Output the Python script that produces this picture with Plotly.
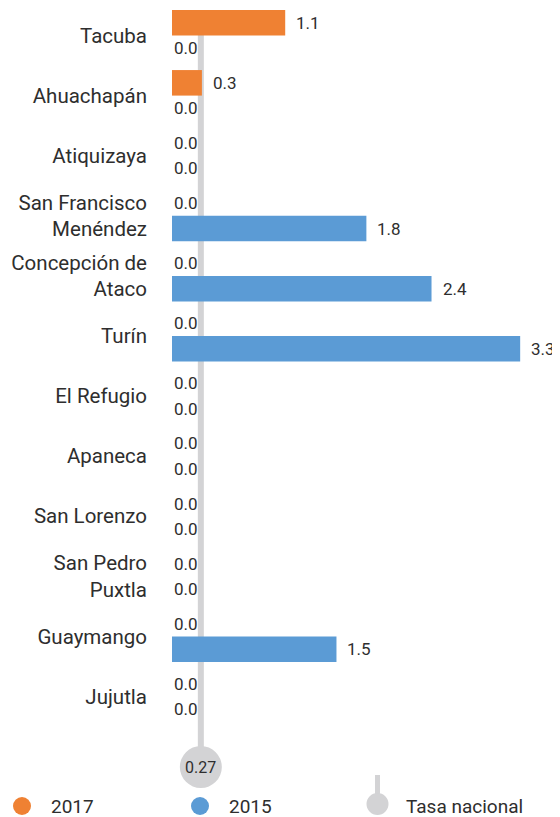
import plotly.graph_objects as go

# datos (valores estimados; las etiquetas muestran un decimal)
categorias = ["Tacuba", "Ahuachapán", "Atiquizaya", "San Francisco<br>Menéndez",
              "Concepción de<br>Ataco", "Turín", "El Refugio", "Apaneca",
              "San Lorenzo", "San Pedro<br>Puxtla", "Guaymango", "Jujutla"]
valores_2017 = [1.06, 0.28, 0.0, 0.0, 0.0, 0.0, 0.0, 0.0, 0.0, 0.0, 0.0, 0.0]
valores_2015 = [0.0, 0.0, 0.0, 1.82, 2.43, 3.26, 0.0, 0.0, 0.0, 0.0, 1.54, 0.0]
tasa_nacional = 0.27

NARANJA = "#EF8133"
AZUL = "#5B9BD5"
GRIS = "#D3D3D5"
TEXTO = "#2E2E2E"
FUENTE = "Roboto"

# la página deja 8px de margen en el body
OFF = 8
W, H = 560 - OFF, 817 - OFF
ML, MR, MT, MB = 172 - OFF, 0, 0, 90
PW, PH = W - ML - MR, H - MT - MB
FILA0, PASO = 35.5 - OFF, 60.1  # centro de la primera fila y separación (px)
ESCALA = 106.8  # px por unidad


def px_x(px):
    return (px - OFF - ML) / PW


def px_y(py):
    return 1 - (py - OFF - MT) / PH


fig = go.Figure()
fig.add_trace(go.Bar(y=categorias, x=valores_2017, orientation="h", name="2017",
                     marker=dict(color=NARANJA, line=dict(width=0))))
fig.add_trace(go.Bar(y=categorias, x=valores_2015, orientation="h", name="2015",
                     marker=dict(color=AZUL, line=dict(width=0))))

# etiquetas de valor
anots = []
for serie, desp in [(valores_2017, 12.75), (valores_2015, -12.75)]:
    for cat, v in zip(categorias, serie):
        anots.append(dict(x=v, y=cat, xref="x", yref="y", text=f"{v:.1f}",
                          showarrow=False, xanchor="left", yanchor="middle",
                          xshift=0 if v == 0 else 9, yshift=desp,
                          font=dict(family=FUENTE, size=17, color=TEXTO)))

# tasa nacional
y_circ = px_y(767)
shapes = [
    dict(type="line", xref="x", yref="paper", x0=tasa_nacional, x1=tasa_nacional,
         y0=px_y(35), y1=y_circ, line=dict(color=GRIS, width=6), layer="below"),
    dict(type="circle", xref="x", yref="paper", xsizemode="pixel", ysizemode="pixel",
         xanchor=tasa_nacional, yanchor=y_circ, x0=-21, x1=21, y0=-21, y1=21,
         fillcolor=GRIS, line=dict(width=0), layer="below"),
]
anots.append(dict(x=tasa_nacional, y=y_circ, xref="x", yref="paper", text="0.27",
                  showarrow=False, xanchor="center", yanchor="middle",
                  font=dict(family=FUENTE, size=16, color=TEXTO)))

# leyenda manual
ley_y = px_y(806)
for cx, color, txt, tx in [(22, NARANJA, "2017", 49), (200, AZUL, "2015", 227)]:
    shapes.append(dict(type="circle", xref="paper", yref="paper", xsizemode="pixel",
                       ysizemode="pixel", xanchor=px_x(cx), yanchor=ley_y,
                       x0=-9, x1=9, y0=-9, y1=9, fillcolor=color, line=dict(width=0)))
    anots.append(dict(x=px_x(tx), y=ley_y, xref="paper", yref="paper", text=txt,
                      showarrow=False, xanchor="left", yanchor="middle",
                      font=dict(family=FUENTE, size=19, color=TEXTO)))
shapes.append(dict(type="line", xref="paper", yref="paper", x0=px_x(377.5), x1=px_x(377.5),
                   y0=px_y(775), y1=px_y(800), line=dict(color=GRIS, width=5)))
shapes.append(dict(type="circle", xref="paper", yref="paper", xsizemode="pixel",
                   ysizemode="pixel", xanchor=px_x(377.5), yanchor=px_y(804),
                   x0=-11, x1=11, y0=-11, y1=11, fillcolor=GRIS, line=dict(width=0)))
anots.append(dict(x=px_x(404), y=ley_y, xref="paper", yref="paper", text="Tasa nacional",
                  showarrow=False, xanchor="left", yanchor="middle",
                  font=dict(family=FUENTE, size=19, color=TEXTO)))

fig.update_layout(
    width=W, height=H, margin=dict(l=ML, r=MR, t=MT, b=MB, pad=0),
    barmode="group", bargap=0.15, bargroupgap=0,
    plot_bgcolor="white", paper_bgcolor="white", showlegend=False,
    font=dict(family=FUENTE, color=TEXTO),
    xaxis=dict(range=[0, PW / ESCALA], visible=False, fixedrange=True),
    yaxis=dict(range=[(PH - FILA0) / PASO, -FILA0 / PASO], showgrid=False,
               zeroline=False, showline=False, ticks="", ticklabelstandoff=24,
               tickfont=dict(family=FUENTE, size=20.5, color=TEXTO)),
    shapes=shapes, annotations=anots,
)

fig.write_html("out.html")
